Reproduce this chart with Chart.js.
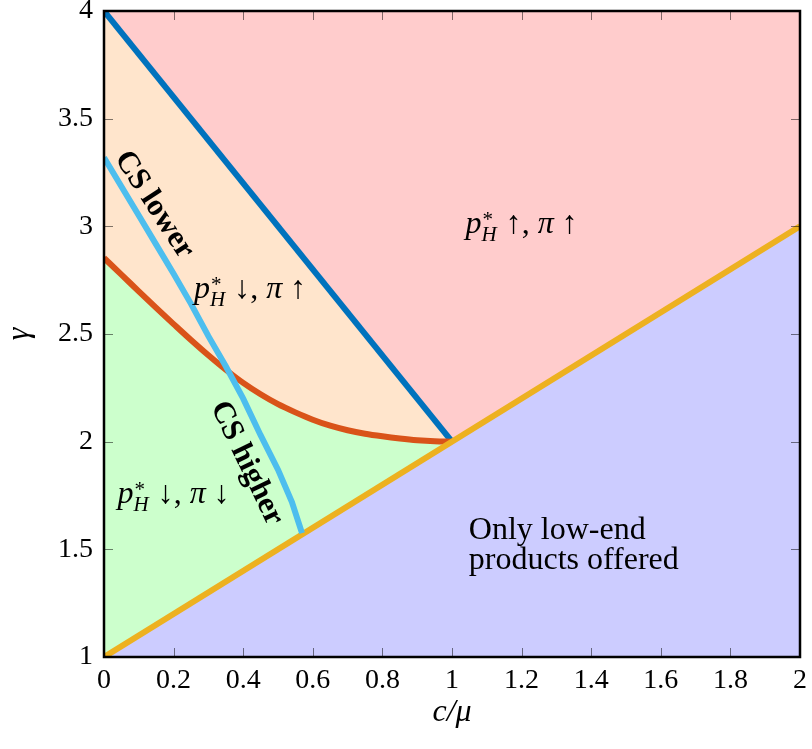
<!DOCTYPE html>
<html>
<head>
<meta charset="utf-8">
<script src="https://cdn.jsdelivr.net/npm/chart.js@4.4.0/dist/chart.umd.min.js"></script>
<style>
  html, body { margin: 0; padding: 0; background: #fff; }
  #wrap { width: 812px; height: 749px; }
</style>
</head>
<body>
<div id="wrap"><canvas id="grafico"></canvas></div>
<script>
// fronteiras das regioes (x = c/mu, y = gamma)
const highEndX = [0, 1];
const highEndY = [4, 2];

const lowEndX = [0, 2];
const lowEndY = [1, 3];

const profitX = [0, 0.05, 0.1, 0.15, 0.2, 0.25, 0.3, 0.35, 0.4, 0.45, 0.5, 0.55, 0.6, 0.65, 0.7, 0.75, 0.8, 0.85, 0.9, 0.95, 1];
const profitY = [2.853, 2.776, 2.698, 2.621, 2.546, 2.472, 2.401, 2.334, 2.273, 2.22, 2.174, 2.136, 2.102, 2.074, 2.053, 2.037, 2.025, 2.015, 2.007, 2.002, 2.0];

const csX = [0, 0.05, 0.1, 0.15, 0.2, 0.25, 0.3, 0.35, 0.4, 0.45, 0.5, 0.54, 0.569];
const csY = [3.32, 3.185, 3.05, 2.915, 2.78, 2.64, 2.49, 2.35, 2.2, 2.03, 1.87, 1.72, 1.575];

const xTicks = [0, 0.2, 0.4, 0.6, 0.8, 1, 1.2, 1.4, 1.6, 1.8, 2];
const xTickLabels = ["0", "0.2", "0.4", "0.6", "0.8", "1", "1.2", "1.4", "1.6", "1.8", "2"];
const yTicks = [1, 1.5, 2, 2.5, 3, 3.5, 4];
const yTickLabels = ["1", "1.5", "2", "2.5", "3", "3.5", "4"];

const serif = "'Liberation Serif', 'DejaVu Serif', serif";

function pts(xs, ys) {
  return xs.map((x, i) => ({ x: x, y: ys[i] }));
}

// textos dentro do grafico
const pH = [{ t: "p", it: true }, { sup: "*", sub: "H" }];
const notes = [
  { x: 1.2, y: 3.0, parts: pH.concat([{ t: " \u2191, " }, { t: "\u03c0", it: true }, { t: " \u2191" }]) },
  { x: 0.42, y: 2.7, parts: pH.concat([{ t: " \u2193, " }, { t: "\u03c0", it: true }, { t: " \u2191" }]) },
  { x: 0.2, y: 1.75, parts: pH.concat([{ t: " \u2193, " }, { t: "\u03c0", it: true }, { t: " \u2193" }]) }
];
const slopedNotes = [
  { text: "CS lower", x: 0.144, y: 3.10, angle: 57 },
  { text: "CS higher", x: 0.41, y: 1.90, angle: 64.5 }
];
const blockNote = { lines: ["Only low-end", "products offered"], x: 1.35, y: 1.5 };

function drawMath(ctx, parts, cx, cy) {
  const big = 32, small = 21;
  const fnt = (size, it) => (it ? "italic " : "") + size + "px " + serif;
  let w = 0;
  const widths = parts.map(p => {
    let pw;
    if (p.sup !== undefined) {
      ctx.font = fnt(small, false);
      const a = ctx.measureText(p.sup).width;
      ctx.font = fnt(small, true);
      const b = ctx.measureText(p.sub).width;
      pw = Math.max(a, b) + 1;
    } else {
      ctx.font = fnt(big, p.it);
      pw = ctx.measureText(p.t).width;
    }
    w += pw;
    return pw;
  });
  let x = cx - w / 2;
  const base = cy + 7;
  ctx.textBaseline = "alphabetic";
  ctx.textAlign = "left";
  parts.forEach((p, i) => {
    if (p.sup !== undefined) {
      ctx.font = fnt(small, false);
      ctx.fillText(p.sup, x + 1, base - 7);
      ctx.font = fnt(small, true);
      ctx.fillText(p.sub, x, base + 8);
    } else {
      ctx.font = fnt(big, p.it);
      ctx.fillText(p.t, x, base);
    }
    x += widths[i];
  });
}

const plotBg = {
  id: "plotBg",
  beforeDraw(chart) {
    const { ctx, chartArea: a } = chart;
    ctx.save();
    ctx.fillStyle = "#ffcccc";
    ctx.fillRect(a.left, a.top, a.width, a.height);
    ctx.restore();
  }
};

const frameAndNotes = {
  id: "frameAndNotes",
  afterDatasetsDraw(chart) {
    const { ctx, chartArea: a, scales } = chart;
    const sx = scales.x, sy = scales.y;
    ctx.save();

    // marcas de escala para dentro, nos quatro lados
    ctx.strokeStyle = "rgba(0,0,0,0.5)";
    ctx.lineWidth = 1;
    ctx.beginPath();
    xTicks.slice(1, -1).forEach(v => {
      const px = Math.round(sx.getPixelForValue(v)) + 0.5;
      ctx.moveTo(px, a.bottom); ctx.lineTo(px, a.bottom - 9);
      ctx.moveTo(px, a.top); ctx.lineTo(px, a.top + 9);
    });
    yTicks.slice(1, -1).forEach(v => {
      const py = Math.round(sy.getPixelForValue(v)) + 0.5;
      ctx.moveTo(a.left, py); ctx.lineTo(a.left + 9, py);
      ctx.moveTo(a.right, py); ctx.lineTo(a.right - 9, py);
    });
    ctx.stroke();

    // moldura
    ctx.strokeStyle = "#000";
    ctx.lineWidth = 2.5;
    ctx.strokeRect(a.left, a.top, a.width, a.height);

    ctx.fillStyle = "#000";
    notes.forEach(n => drawMath(ctx, n.parts, sx.getPixelForValue(n.x), sy.getPixelForValue(n.y)));

    ctx.font = "bold 31px " + serif;
    ctx.textAlign = "center";
    ctx.textBaseline = "middle";
    slopedNotes.forEach(n => {
      ctx.save();
      ctx.translate(sx.getPixelForValue(n.x), sy.getPixelForValue(n.y));
      ctx.rotate(n.angle * Math.PI / 180);
      ctx.fillText(n.text, 0, 0);
      ctx.restore();
    });

    ctx.font = "32px " + serif;
    ctx.textAlign = "left";
    ctx.textBaseline = "alphabetic";
    const maxW = Math.max(...blockNote.lines.map(t => ctx.measureText(t).width));
    const bx = sx.getPixelForValue(blockNote.x) - maxW / 2;
    const by = sy.getPixelForValue(blockNote.y);
    blockNote.lines.forEach((t, i) => ctx.fillText(t, bx, by - 10 + i * 30));

    ctx.restore();
  }
};

const ctx = document.getElementById("grafico").getContext("2d");
new Chart(ctx, {
  type: "line",
  data: {
    datasets: [
      { label: "CS", data: pts(csX, csY), borderColor: "#4dbeee", borderWidth: 6, pointRadius: 0, fill: false },
      { label: "low", data: pts(lowEndX, lowEndY), borderColor: "#edb120", borderWidth: 6, pointRadius: 0,
        fill: "start", backgroundColor: "#ccccff" },
      { label: "profit", data: pts(profitX, profitY), borderColor: "#d95319", borderWidth: 6, pointRadius: 0,
        cubicInterpolationMode: "monotone", fill: { target: 1 }, backgroundColor: "#ccffcc" },
      { label: "high", data: pts(highEndX, highEndY), borderColor: "#0072bd", borderWidth: 6, pointRadius: 0,
        fill: { target: 2 }, backgroundColor: "#ffe5cc" }
    ]
  },
  options: {
    responsive: true,
    maintainAspectRatio: false,
    animation: false,
    events: [],
    layout: { padding: { left: 0, right: 12, top: 11, bottom: 0 } },
    plugins: {
      legend: { display: false },
      tooltip: { enabled: false },
      filler: { drawTime: "beforeDatasetsDraw" }
    },
    scales: {
      x: {
        type: "linear",
        min: 0,
        max: 2,
        grid: { display: false, drawTicks: false },
        border: { display: false },
        afterBuildTicks: s => { s.ticks = xTicks.map(v => ({ value: v })); },
        afterFit: s => { s.height = 92; s.paddingLeft = 0; s.paddingRight = 0; },
        ticks: {
          color: "#000",
          font: { family: serif, size: 28 },
          padding: 7,
          maxRotation: 0,
          autoSkip: false,
          callback: (v, i) => xTickLabels[i]
        },
        title: {
          display: true,
          text: "c/\u03bc",
          color: "#000",
          font: { family: serif, size: 32, style: "italic" },
          padding: { top: 0, bottom: 17 }
        }
      },
      y: {
        type: "linear",
        min: 1,
        max: 4,
        grid: { display: false, drawTicks: false },
        border: { display: false },
        afterBuildTicks: s => { s.ticks = yTicks.map(v => ({ value: v })); },
        afterFit: s => { s.width = 104; s.paddingTop = 0; s.paddingBottom = 0; },
        ticks: {
          color: "#000",
          font: { family: serif, size: 28 },
          padding: 11,
          autoSkip: false,
          callback: (v, i) => yTickLabels[i]
        },
        title: {
          display: true,
          text: "\u03b3",
          color: "#000",
          font: { family: serif, size: 32, style: "italic" },
          padding: { top: 0, bottom: 0 }
        }
      }
    }
  },
  plugins: [plotBg, frameAndNotes]
});
</script>
</body>
</html>
